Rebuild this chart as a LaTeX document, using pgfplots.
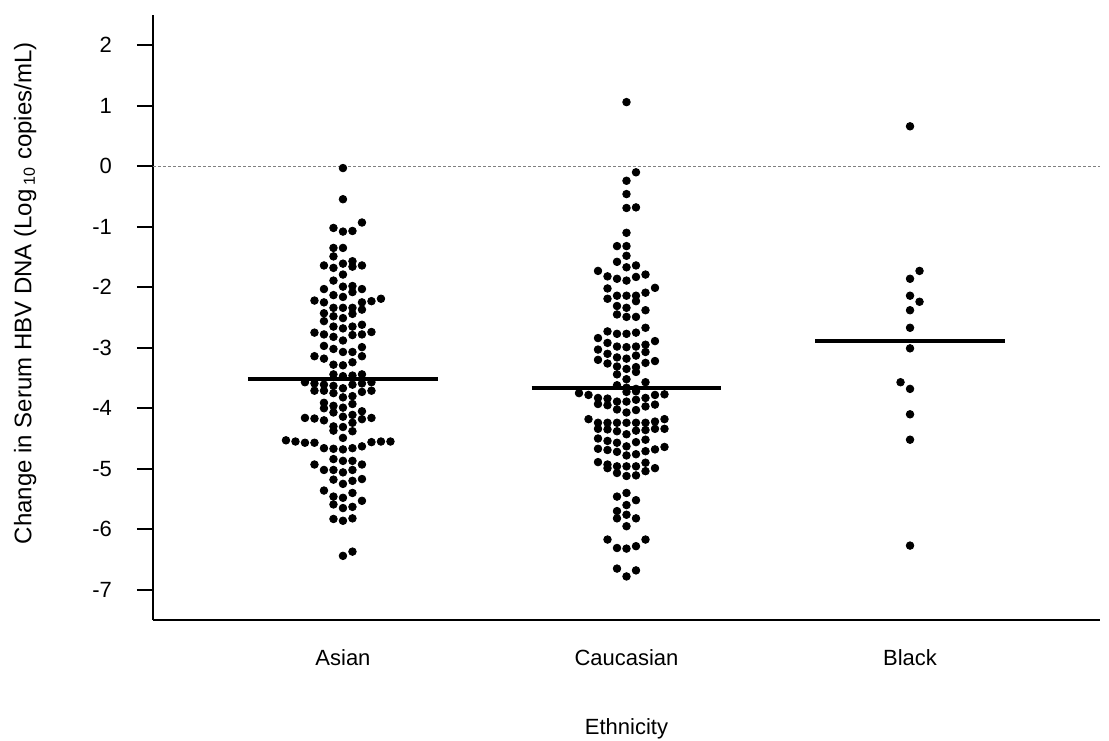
\documentclass[border=0pt]{standalone}
\usepackage{fontspec}
\setmainfont{Liberation Sans}
\usepackage{pgfplots}
\usepackage{pgfplotstable}
\pgfplotsset{compat=1.18}

% k = column offset in the swarm, y = change in log10 copies/mL
\pgfplotstableread{
k y
0 -0.03
0 -0.545
-1 -1.02
0 -1.08
1 -1.07
2 -0.93
-1 -1.35
0 -1.35
-1 -1.49
-2 -1.64
-1 -1.68
0 -1.61
1 -1.57
1 -1.66
2 -1.64
0 -1.79
-1 -1.89
-2 -2.03
0 -1.99
1 -1.98
1 -2.08
2 -2.03
-1 -2.13
0 -2.16
-3 -2.22
-2 -2.25
2 -2.25
3 -2.23
4 -2.19
-1 -2.34
0 -2.34
1 -2.34
2 -2.37
-2 -2.43
-1 -2.48
0 -2.51
1 -2.44
-2 -2.56
-1 -2.65
0 -2.68
1 -2.65
2 -2.62
-3 -2.75
-2 -2.78
-1 -2.82
0 -2.88
1 -2.79
2 -2.78
3 -2.74
-2 -2.97
-1 -3.02
0 -3.07
1 -3.07
2 -2.99
-3 -3.14
-2 -3.18
2 -3.14
-1 -3.28
0 -3.29
1 -3.24
-1 -3.44
0 -3.47
1 -3.46
2 -3.44
-4 -3.57
-3 -3.59
-2 -3.61
-1 -3.63
0 -3.67
1 -3.61
2 -3.59
3 -3.57
-3 -3.71
-2 -3.71
-1 -3.75
0 -3.82
1 -3.80
2 -3.73
3 -3.71
-2 -3.91
-2 -4.00
-1 -3.96
-1 -4.07
0 -3.99
1 -3.93
2 -4.05
-4 -4.16
-3 -4.17
-2 -4.20
0 -4.14
1 -4.11
1 -4.24
2 -4.18
3 -4.16
-1 -4.30
-1 -4.37
0 -4.31
1 -4.38
0 -4.49
-6 -4.53
-5 -4.55
-4 -4.57
-3 -4.57
-2 -4.66
-1 -4.67
0 -4.68
1 -4.66
2 -4.63
3 -4.56
4 -4.55
5 -4.55
-1 -4.84
0 -4.87
1 -4.87
-3 -4.93
2 -4.93
-2 -5.02
-1 -5.02
0 -5.06
1 -5.02
-1 -5.18
0 -5.25
1 -5.20
2 -5.17
-2 -5.36
-1 -5.46
0 -5.48
1 -5.40
2 -5.53
-1 -5.59
0 -5.65
1 -5.63
-1 -5.83
0 -5.86
1 -5.82
0 -6.44
1 -6.37
}\asian

\pgfplotstableread{
k y
0 1.06
1 -0.10
0 -0.24
0 -0.46
0 -0.69
1 -0.68
0 -1.10
-1 -1.32
0 -1.32
0 -1.48
-1 -1.58
0 -1.67
1 -1.64
-3 -1.73
-2 -1.82
-1 -1.86
0 -1.89
1 -1.83
2 -1.79
-2 -2.02
3 -2.01
2 -2.09
-2 -2.19
-1 -2.14
0 -2.14
1 -2.14
1 -2.23
-1 -2.31
0 -2.34
2 -2.38
-1 -2.45
0 -2.49
1 -2.49
-2 -2.73
-1 -2.77
0 -2.77
1 -2.75
2 -2.67
-3 -2.84
-2 -2.92
-1 -2.98
0 -2.99
1 -2.98
2 -2.95
3 -2.89
-3 -3.03
-2 -3.10
-1 -3.16
0 -3.18
1 -3.13
2 -3.07
-3 -3.20
-2 -3.26
-1 -3.31
0 -3.35
1 -3.32
2 -3.25
3 -3.22
-1 -3.44
0 -3.52
1 -3.40
-1 -3.62
2 -3.57
0 -3.66
1 -3.68
0 -3.73
1 -3.72
-5 -3.75
-4 -3.78
-3 -3.83
-2 -3.84
-1 -3.89
0 -3.89
1 -3.86
2 -3.83
3 -3.78
4 -3.77
-3 -3.93
-2 -3.95
-1 -4.02
0 -4.07
1 -4.03
2 -3.97
3 -3.94
-4 -4.18
-3 -4.24
-2 -4.24
-1 -4.24
0 -4.24
1 -4.24
2 -4.24
3 -4.22
4 -4.18
-3 -4.34
-2 -4.35
-1 -4.38
0 -4.43
1 -4.37
2 -4.36
3 -4.34
4 -4.34
-3 -4.50
-2 -4.54
-1 -4.57
0 -4.63
1 -4.56
2 -4.52
-3 -4.67
-2 -4.69
-1 -4.72
0 -4.78
1 -4.76
2 -4.71
3 -4.68
4 -4.64
-3 -4.89
-2 -4.93
-2 -4.99
-1 -4.96
-1 -5.07
0 -4.96
0 -5.12
1 -4.96
1 -5.11
2 -4.90
2 -5.04
3 -4.99
0 -5.40
-1 -5.46
1 -5.52
0 -5.60
-1 -5.70
-1 -5.82
0 -5.76
1 -5.82
0 -5.95
-2 -6.17
-1 -6.31
0 -6.32
1 -6.28
2 -6.17
-1 -6.65
0 -6.78
1 -6.68
}\caucasian

\pgfplotstableread{
k y
0 0.66
1 -1.73
0 -1.86
0 -2.14
1 -2.24
0 -2.38
0 -2.67
0 -3.01
-1 -3.57
0 -3.68
0 -4.10
0 -4.52
0 -6.27
}\black

\begin{document}
\begin{tikzpicture}
\begin{axis}[
  scale only axis,
  width=473.5pt, height=302.5pt,
  xmin=0.33, xmax=3.67,
  ymin=-7.5, ymax=2.5,
  axis lines=left,
  axis line style={-, line width=0.9pt},
  font=\fontsize{11}{13}\selectfont,
  xtick={1,2,3},
  xticklabels={Asian,Caucasian,Black},
  major x tick style={draw=none},
  xticklabel style={yshift=-3pt},
  ytick={-7,-6,-5,-4,-3,-2,-1,0,1,2},
  yticklabels={-7,-6,-5,-4,-3,-2,-1,0,1,2},
  tick align=outside,
  major tick length=8pt,
  major y tick style={line width=0.9pt, black},
  yticklabel style={xshift=-9pt},
  xlabel={Ethnicity},
  xlabel style={at={(axis description cs:0.5,-0.19)}, anchor=base},
  ylabel={Change in Serum HBV DNA (Log\,\textsubscript{10} copies/mL)},
  ylabel style={at={(axis description cs:-0.135,0.54)}, anchor=center, font=\fontsize{12}{14}\selectfont},
  clip=false,
]
\addplot[gray, line width=0.4pt, dash pattern=on 1.5pt off 1pt] coordinates {(0.33,0) (3.67,0)};
\addplot[only marks, mark=*, mark size=1.9pt, black] table[x expr=1+0.0335*\thisrow{k}, y=y] {\asian};
\addplot[only marks, mark=*, mark size=1.9pt, black] table[x expr=2+0.0335*\thisrow{k}, y=y] {\caucasian};
\addplot[only marks, mark=*, mark size=1.9pt, black] table[x expr=3+0.0335*\thisrow{k}, y=y] {\black};
\addplot[black, line width=2pt] coordinates {(0.665,-3.51) (1.335,-3.51)};
\addplot[black, line width=2pt] coordinates {(1.665,-3.67) (2.335,-3.67)};
\addplot[black, line width=2pt] coordinates {(2.665,-2.89) (3.335,-2.89)};
\end{axis}
\pgfresetboundingbox
\path[use as bounding box] (-76.5pt,-60pt) rectangle (478pt,310pt);
\end{tikzpicture}
\end{document}
